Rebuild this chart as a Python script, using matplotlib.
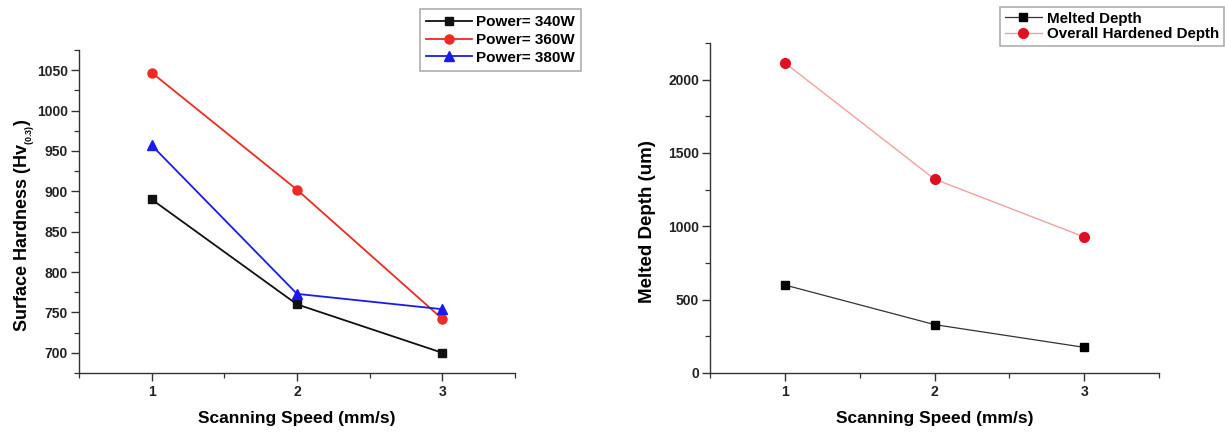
import matplotlib
matplotlib.use("Agg")
import matplotlib.pyplot as plt
from matplotlib.ticker import MultipleLocator

plt.rcParams['font.family'] = ['Liberation Sans', 'DejaVu Sans']
plt.rcParams['mathtext.fontset'] = 'custom'
plt.rcParams['mathtext.rm'] = 'Liberation Sans:bold'
plt.rcParams['mathtext.bf'] = 'Liberation Sans:bold'
plt.rcParams['mathtext.it'] = 'Liberation Sans:bold'

speed = [1, 2, 3]
hard_340 = [890, 760, 700]
hard_360 = [1047, 902, 742]
hard_380 = [957, 773, 754]
melted_depth = [600, 330, 175]
hardened_depth = [2115, 1322, 928]

W, H = 1225, 434
fig = plt.figure(figsize=(W / 100, H / 100), dpi=100)


def px_axes(x0, y0, x1, y1):
    return fig.add_axes([x0 / W, 1 - y1 / H, (x1 - x0) / W, (y1 - y0) / H])


def style(ax):
    for s in ['top', 'right']:
        ax.spines[s].set_visible(False)
    for s in ['left', 'bottom']:
        ax.spines[s].set_linewidth(1.0)
        ax.spines[s].set_color('#333333')
    ax.tick_params(which='major', direction='out', length=6, width=1.0, pad=2,
                   labelsize=10, colors='#333333', labelcolor='#222222')
    ax.tick_params(axis='x', which='major', pad=3)
    ax.tick_params(which='minor', direction='out', length=3.5, width=0.9,
                   colors='#333333')
    for lbl in ax.get_xticklabels() + ax.get_yticklabels():
        lbl.set_fontweight('bold')
    ax.xaxis.set_major_locator(MultipleLocator(1))
    ax.xaxis.set_minor_locator(MultipleLocator(0.5))


# Left panel
ax1 = px_axes(79, 50, 515, 373)
ax1.plot(speed, hard_340, color='#111111', marker='s', ms=6, lw=1.3, label='Power= 340W')
ax1.plot(speed, hard_360, color='#ee2a22', marker='o', ms=6.5, lw=1.3, label='Power= 360W')
ax1.plot(speed, hard_380, color='#1a1aee', marker='^', ms=6.5, lw=1.3, label='Power= 380W')
ax1.set_xlim(0.5, 3.5)
ax1.set_ylim(675, 1075)
ax1.yaxis.set_major_locator(MultipleLocator(50))
ax1.yaxis.set_minor_locator(MultipleLocator(25))
style(ax1)
ax1.set_xlabel('Scanning Speed (mm/s)', fontsize=12.5, fontweight='bold', labelpad=8)
ax1.set_ylabel(r'Surface Hardness (Hv$_{_{(0.3)}}$)', fontsize=13, fontweight='bold')
ax1.yaxis.set_label_coords(-0.097, 0.458)
leg1 = ax1.legend(loc='upper left', bbox_to_anchor=(420 / W, 1 - 9 / H),
                  bbox_transform=fig.transFigure, prop={'weight': 'bold', 'size': 11},
                  frameon=True, fancybox=False, edgecolor='#999999', borderaxespad=0,
                  handlelength=3.0, borderpad=0.4, labelspacing=0.25, handletextpad=0.25)
leg1.get_frame().set_linewidth(1.2)

# Right panel
ax2 = px_axes(710, 43, 1159, 373)
ax2.plot(speed, melted_depth, color='#333333', marker='s', ms=6, mfc='black', mec='black',
         lw=0.9, label='Melted Depth')
ax2.plot(speed, hardened_depth, color='#f3a0a0', marker='o', ms=7, mfc='#dd1122', mec='#dd1122',
         lw=1.0, label='Overall Hardened Depth')
ax2.set_xlim(0.5, 3.5)
ax2.set_ylim(0, 2250)
ax2.yaxis.set_major_locator(MultipleLocator(500))
ax2.yaxis.set_minor_locator(MultipleLocator(250))
style(ax2)
ax2.set_xlabel('Scanning Speed (mm/s)', fontsize=12.5, fontweight='bold', labelpad=8)
ax2.set_ylabel('Melted Depth (um)', fontsize=13.5, fontweight='bold')
ax2.yaxis.set_label_coords(-0.12, 0.4576)
leg2 = ax2.legend(loc='upper left', bbox_to_anchor=(1000 / W, 1 - 7 / H),
                  bbox_transform=fig.transFigure, prop={'weight': 'bold', 'size': 10.9},
                  frameon=True, fancybox=False, edgecolor='#999999', borderaxespad=0,
                  handlelength=2.5, borderpad=0.3, labelspacing=0.1, handletextpad=0.3)
leg2.get_frame().set_linewidth(1.2)

fig.savefig('out.png', dpi=100)
